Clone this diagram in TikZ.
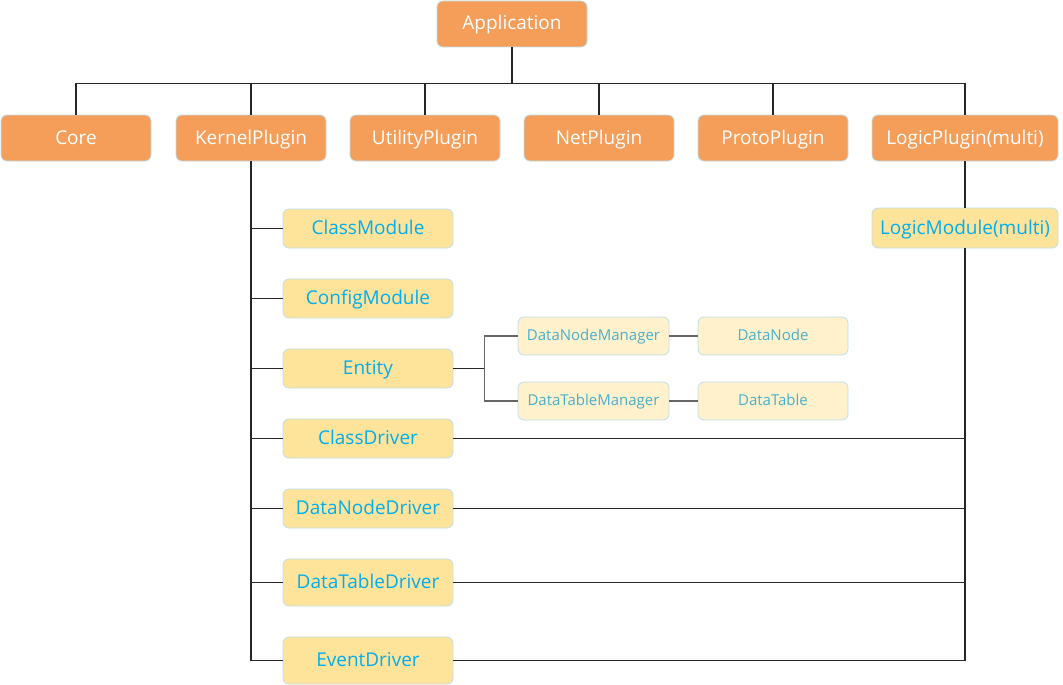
\documentclass[tikz,border=0pt]{standalone}
\usepackage{fontspec}
\setmainfont{Open Sans}
\definecolor{orangefill}{HTML}{F49E5A}
\definecolor{boxborder}{HTML}{BFDDEB}
\definecolor{yellowfill}{HTML}{FDE49A}
\definecolor{cyantext}{HTML}{00AEEF}
\definecolor{subfill}{HTML}{FEF1CC}
\definecolor{subtext}{HTML}{4AAFCB}
\definecolor{subline}{HTML}{666666}
\begin{document}
\begin{tikzpicture}[x=1pt,y=-1pt,
  basebox/.style={draw=boxborder, line width=0.8pt, rounded corners=6pt, inner sep=0pt},
  orangebox/.style={basebox, fill=orangefill, text height=13pt, text depth=1pt,
    text=white, font=\fontsize{19}{21}\selectfont, minimum width=150pt, minimum height=46pt},
  yellowbox/.style={basebox, fill=yellowfill, text height=13pt, text depth=1pt,
    text=cyantext, font=\fontsize{19}{21}\selectfont, minimum width=170pt, minimum height=39pt},
  subbox/.style={basebox, fill=subfill, text height=10.5pt, text depth=1pt,
    text=subtext, font=\fontsize{15}{17}\selectfont, minimum width=151pt, minimum height=38pt},
  conn/.style={draw=black!85, line width=1.1pt},
  subconn/.style={draw=subline, line width=1.6pt}]
\useasboundingbox (0,0) rectangle (1063,685);
% top
\node[orangebox] (app) at (512,24) {Application};
\node[orangebox] (core) at (76,138) {Core};
\node[orangebox] (kernel) at (251,138) {KernelPlugin};
\node[orangebox] (utility) at (425,138) {UtilityPlugin};
\node[orangebox] (net) at (599,138) {NetPlugin};
\node[orangebox] (proto) at (773,138) {ProtoPlugin};
\node[orangebox, minimum width=186pt] (logic) at (965,138) {LogicPlugin(multi)};
% kernel modules
\node[yellowbox] (classmod) at (368,228.5) {ClassModule};
\node[yellowbox] (configmod) at (368,298.5) {ConfigModule};
\node[yellowbox] (entity) at (368,368.5) {Entity};
\node[yellowbox] (classdrv) at (368,438.5) {ClassDriver};
\node[yellowbox] (dnodedrv) at (368,508.5) {DataNodeDriver};
\node[yellowbox, minimum height=47pt] (dtabledrv) at (368,582.5) {DataTableDriver};
\node[yellowbox, minimum height=47pt] (eventdrv) at (368,660.5) {EventDriver};
\node[yellowbox, minimum width=186pt, minimum height=40pt] (logicmod) at (965,228) {LogicModule(multi)};
% entity sub
\node[subbox] (dnm) at (593.5,336) {DataNodeManager};
\node[subbox, minimum width=150pt] (dn) at (773,336) {DataNode};
\node[subbox] (dtm) at (593.5,401) {DataTableManager};
\node[subbox, minimum width=150pt] (dt) at (773,401) {DataTable};
% connectors top
\draw[conn] (app.south) -- ++(0,36) coordinate (bus);
\foreach \n in {core,kernel,utility,net,proto,logic}
  \draw[conn] (bus) -| (\n.north);
% kernel branch
\foreach \n in {classmod,configmod,entity,classdrv,dnodedrv,dtabledrv,eventdrv}
  \draw[conn] (kernel.south) |- (\n.west);
% logic branch
\draw[conn] (logic.south) -- (logicmod.north);
\foreach \n in {classdrv,dnodedrv,dtabledrv,eventdrv}
  \draw[conn] (logicmod.south) |- (\n.east);
% entity
\draw[conn] (entity.east) -- ++(31,0) coordinate (eb);
\draw[subconn] (eb) |- (dnm.west);
\draw[subconn] (eb) |- (dtm.west);
\draw[subconn] (dnm.east) -- (dn.west);
\draw[subconn] (dtm.east) -- (dt.west);
\end{tikzpicture}
\end{document}
